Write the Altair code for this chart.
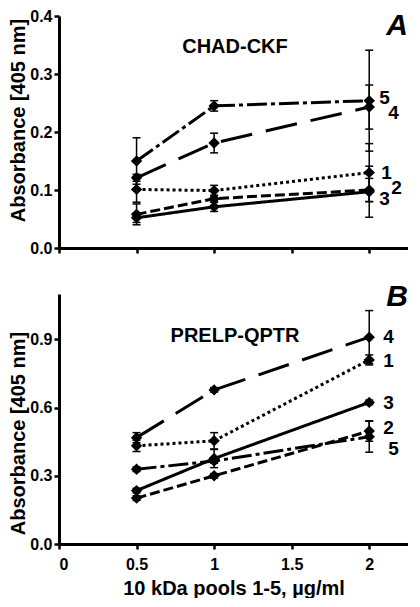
import altair as alt
import pandas as pd

# ---------------- data ----------------
SERIES = ["1", "2", "3", "4", "5"]
DOSES = [0.5, 1.0, 2.0]

# Panel A: CHAD-CKF
A_S1 = [0.101, 0.099, 0.130]
A_S2 = [0.058, 0.085, 0.100]
A_S3 = [0.052, 0.071, 0.097]
A_S4 = [0.121, 0.181, 0.243]
A_S5 = [0.150, 0.245, 0.254]
A_S1_ERR = [0.022, 0.009, 0.050]
A_S2_ERR = [0.018, 0.006, 0.020]
A_S3_ERR = [0.008, 0.008, 0.044]
A_S4_ERR = [0.006, 0.017, 0.038]
A_S5_ERR = [0.040, 0.009, 0.087]

# Panel B: PRELP-QPTR
B_S1 = [0.432, 0.454, 0.810]
B_S2 = [0.202, 0.300, 0.497]
B_S3 = [0.235, 0.376, 0.623]
B_S4 = [0.468, 0.678, 0.910]
B_S5 = [0.329, 0.365, 0.472]
B_S1_ERR = [0.025, 0.036, 0.022]
B_S2_ERR = [0.010, 0.010, 0.045]
B_S3_ERR = [0.010, 0.040, 0.010]
B_S4_ERR = [0.022, 0.010, 0.117]
B_S5_ERR = [0.010, 0.010, 0.068]

A_TICKS = [0.0, 0.1, 0.2, 0.3, 0.4]
B_TICKS = [0.0, 0.3, 0.6, 0.9]
X_TICKS = [0, 0.5, 1, 1.5, 2]

# ---------------- styling ----------------
FONT = "Liberation Sans"
XMAX = 2.25
W = 349
H_A = 232
H_B = 250
DASHES = [[3, 3], [10, 4], [1, 0], [32, 14], [20, 4, 4, 4]]
# label offsets (dx, dy) for the series numbers at dose 2
A_LABEL_OFF = {"1": (12, 0), "2": (22, -2), "3": (10, 7), "4": (19, 6), "5": (10, -3)}
B_LABEL_OFF = {"1": (14, 1), "2": (14, -3), "3": (14, 1), "4": (14, 0), "5": (19, 12)}


def make_df(means, errs):
    rows = []
    for s, m, e in zip(SERIES, means, errs):
        for d, v, ev in zip(DOSES, m, e):
            rows.append({"series": s, "dose": d, "mean": v, "lo": v - ev, "hi": v + ev})
    return pd.DataFrame(rows)


df_a = make_df([A_S1, A_S2, A_S3, A_S4, A_S5],
               [A_S1_ERR, A_S2_ERR, A_S3_ERR, A_S4_ERR, A_S5_ERR])
df_b = make_df([B_S1, B_S2, B_S3, B_S4, B_S5],
               [B_S1_ERR, B_S2_ERR, B_S3_ERR, B_S4_ERR, B_S5_ERR])


def panel(df, ydom, yticks, height, bottom, name, letter, label_off, title_y,
          name_y, letter_y):
    xscale = alt.Scale(domain=[0, XMAX], nice=False, zero=False)
    yscale = alt.Scale(domain=ydom, nice=False, zero=False)
    if bottom:
        xaxis = alt.Axis(values=X_TICKS, format="~g", labelPadding=7, titlePadding=6)
        xtitle = "10 kDa pools 1-5, µg/ml"
    else:
        xaxis = alt.Axis(values=X_TICKS, labels=False)
        xtitle = None
    yaxis = alt.Axis(values=yticks, format=".1f", titleY=title_y)
    ytitle = "Absorbance [405 nm]"

    def X():
        return alt.X("dose:Q", scale=xscale, axis=xaxis, title=xtitle)

    def Y(field):
        return alt.Y(f"{field}:Q", scale=yscale, axis=yaxis, title=ytitle)

    base = alt.Chart(df)
    lines = base.mark_line(color="black", strokeWidth=3, strokeCap="butt").encode(
        x=X(), y=Y("mean"),
        strokeDash=alt.StrokeDash("series:N",
                                  scale=alt.Scale(domain=SERIES, range=DASHES),
                                  legend=None),
    )
    rules = base.mark_rule(color="black", strokeWidth=1.5).encode(
        x=X(), y=Y("lo"), y2="hi:Q")
    cap_lo = base.mark_tick(color="black", orient="horizontal", size=8,
                            thickness=1.5, opacity=1).encode(x=X(), y=Y("lo"))
    cap_hi = base.mark_tick(color="black", orient="horizontal", size=8,
                            thickness=1.5, opacity=1).encode(x=X(), y=Y("hi"))
    pts = base.mark_point(shape="diamond", filled=True, size=130, color="black",
                          opacity=1, strokeWidth=0).encode(x=X(), y=Y("mean"))
    layers = [lines, rules, cap_lo, cap_hi, pts]

    last = df[df["dose"] == 2.0]
    for s in SERIES:
        dx, dy = label_off[s]
        sub = last[last["series"] == s]
        layers.append(
            alt.Chart(sub).mark_text(font=FONT, fontSize=19, fontWeight="bold",
                                     color="black", align="left", baseline="middle",
                                     dx=dx, dy=dy).encode(
                x=X(), y=Y("mean"), text="series:N")
        )

    ann = pd.DataFrame({"name": [name], "letter": [letter]})
    layers.append(
        alt.Chart(ann).mark_text(font=FONT, fontSize=20, fontWeight="bold",
                                 color="black", align="center",
                                 baseline="middle").encode(
            x=alt.value(176), y=alt.value(name_y), text="name:N")
    )
    layers.append(
        alt.Chart(ann).mark_text(font=FONT, fontSize=30, fontWeight="bold",
                                 fontStyle="italic", color="black", align="right",
                                 baseline="top").encode(
            x=alt.value(W), y=alt.value(letter_y), text="letter:N")
    )
    return alt.layer(*layers).properties(width=W, height=height)


top = panel(df_a, [0, 0.4], A_TICKS, H_A, False, "CHAD-CKF", "A", A_LABEL_OFF,
            104, 31, -5)
bot = panel(df_b, [0, 1.1], B_TICKS, H_B, True, "PRELP-QPTR", "B", B_LABEL_OFF,
            139, 42, -12)

chart = alt.vconcat(top, bot, spacing=26).properties(
    padding={"left": 0, "top": 0, "right": 0, "bottom": 0}
).configure_axis(
    domainColor="black", domainWidth=3, tickColor="black", tickWidth=2.5,
    tickSize=5, labelFont=FONT, labelFontSize=16, labelFontWeight="bold",
    labelColor="black", titleFont=FONT, titleFontSize=20, titleFontWeight="bold",
    titleColor="black", grid=False, labelPadding=2, titlePadding=1,
).configure_view(stroke=None)

chart.save("out.html", embed_options={"renderer": "svg", "actions": False})
